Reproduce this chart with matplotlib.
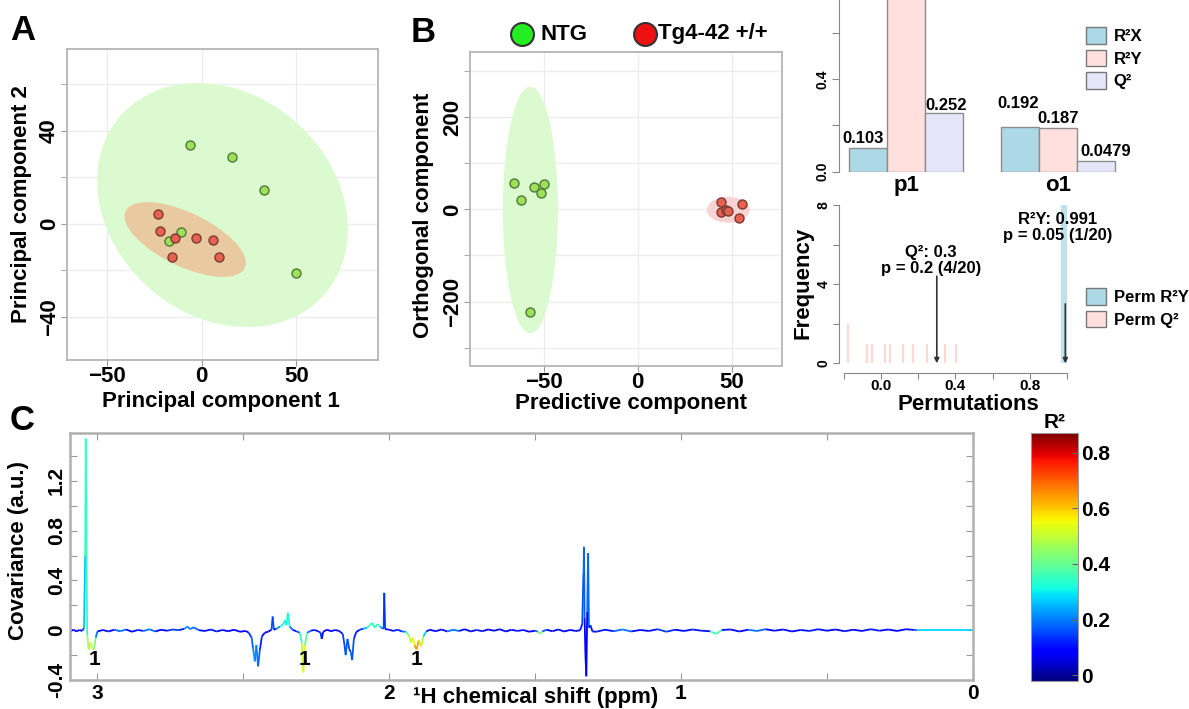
import numpy as np
import matplotlib.pyplot as plt
from matplotlib.patches import Ellipse, Patch
from matplotlib.collections import LineCollection
from matplotlib.lines import Line2D
from matplotlib.colors import Normalize
from matplotlib.cm import ScalarMappable

plt.rcParams['font.family'] = ['Liberation Sans', 'DejaVu Sans']
plt.rcParams['font.weight'] = 'bold'

# ---- A: PCA scores
pca_ntg_x = [-6, 16, 33, 50, -11, -17]
pca_ntg_y = [34, 28.5, 14.6, -21, -3.4, -7.3]
pca_tg_x = [-23, -21.7, -13.9, -3, 6.2, -15.5, 9]
pca_tg_y = [4.2, -3, -6.3, -6.2, -6.9, -14.5, -14.5]
# ellipse: centre x, centre y, width, height, angle
pca_ntg_ell = (11, 8, 136, 100, -20)
pca_tg_ell = (-8.7, -6.8, 67.5, 23.7, -20)

# ---- B: OPLS-DA scores
opls_ntg_pred = [-65.8, -61.7, -55.2, -49.9, -51.5, -57]
opls_ntg_orth = [57.7, 20.2, 48.4, 54.9, 35.4, -223.4]
opls_tg_pred = [43.9, 44.3, 47, 48, 55.4, 53.6]
opls_tg_orth = [15.8, -6.5, -2.2, -3, 10.8, -18.2]
opls_ntg_ell = (-57, -1.5, 29.2, 535, 0)
opls_tg_ell = (48, -1, 22.6, 56, 0)
group_names = ['NTG', 'Tg4-42 +/+']

# ---- model overview
comp_names = ['p1', 'o1']
r2x = [0.103, 0.192]
r2y = [0.804, 0.187]
q2 = [0.252, 0.0479]

# ---- permutations
perm_q2_bins = [-0.176, -0.077, -0.05, 0.02, 0.048, 0.12, 0.174, 0.245, 0.344, 0.403]
perm_q2_counts = [2, 1, 1, 1, 1, 1, 1, 1, 1, 1]
perm_r2y_bins = [0.985]
perm_r2y_counts = [8]
model_q2 = 0.3
model_r2y = 0.991
q2_text = 'Q²: 0.3\np = 0.2 (4/20)'
r2y_text = 'R²Y: 0.991\np = 0.05 (1/20)'

# ---- C: covariance spectrum coloured by R2
shift_ppm = [
    3.09, 3.08, 3.07, 3.06, 3.05, 3.044, 3.040, 3.038, 3.036, 3.033, 3.028, 3.022, 3.016, 3.010, 3.004, 2.998,
    2.98, 2.96, 2.94, 2.92, 2.90, 2.88, 2.86, 2.84, 2.82, 2.80, 2.78, 2.76, 2.74, 2.72, 2.70, 2.69, 2.68, 2.67,
    2.65, 2.63, 2.61, 2.59, 2.57, 2.55, 2.53, 2.51, 2.49, 2.48,
    2.470, 2.465, 2.459, 2.454, 2.448, 2.442, 2.435, 2.425, 2.412, 2.402, 2.398, 2.394, 2.385, 2.372, 2.362,
    2.356, 2.351, 2.346, 2.340, 2.330, 2.318, 2.305, 2.298, 2.293, 2.288, 2.280, 2.268, 2.255, 2.242, 2.234,
    2.230, 2.225, 2.212, 2.198, 2.184, 2.170, 2.158, 2.152, 2.148, 2.142, 2.136, 2.130, 2.126, 2.120, 2.112,
    2.100, 2.088, 2.075, 2.066, 2.058, 2.048, 2.040, 2.030, 2.022, 2.018, 2.016, 2.013, 2.006, 1.998,
    1.985, 1.970, 1.955, 1.942, 1.932, 1.924, 1.918, 1.912, 1.905, 1.898, 1.890, 1.882, 1.872, 1.860, 1.840,
    1.820, 1.800, 1.780, 1.760, 1.740, 1.720, 1.700, 1.680, 1.660, 1.640, 1.620, 1.600, 1.580, 1.560, 1.540,
    1.520, 1.500, 1.490, 1.483, 1.475, 1.460, 1.440, 1.420, 1.400, 1.380, 1.360, 1.345,
    1.338, 1.334, 1.332, 1.330, 1.327, 1.324, 1.321, 1.318, 1.315, 1.310, 1.303,
    1.29, 1.26, 1.23, 1.20, 1.17, 1.14, 1.11, 1.08, 1.05, 1.02, 0.99, 0.96, 0.93, 0.90, 0.88,
    0.86, 0.83, 0.80, 0.77, 0.74, 0.71, 0.68, 0.65, 0.62, 0.59, 0.56, 0.53, 0.50, 0.47, 0.44,
    0.41, 0.38, 0.35, 0.32, 0.29, 0.26, 0.23, 0.20,
    0.19, 0.0]
covariance = [
    -0.008, 0.004, -0.010, 0.002, -0.006, 0.02, 0.6, 1.54, 0.7, -0.04, -0.155, -0.10, -0.14, -0.155, -0.06, -0.01,
    0.002, -0.010, 0.004, -0.008, 0.006, -0.012, 0.002, -0.006, 0.008, -0.010, 0.004, -0.004, 0.006, 0.000, 0.012,
    0.030, 0.008, 0.024, 0.000, -0.006, 0.006, -0.010, 0.002, -0.008, 0.004, -0.012, -0.006, -0.02,
    -0.06, -0.15, -0.25, -0.12, -0.29, -0.16, -0.05, -0.02, -0.01, 0.005, 0.11, 0.004, 0.012, 0.03, 0.05,
    0.08, 0.04, 0.14, 0.03, 0.004, -0.008, -0.02, -0.10, -0.34, -0.12, -0.02, -0.004, 0.002, -0.008, -0.02,
    -0.07, -0.012, 0.004, -0.008, 0.002, -0.006, -0.03, -0.12, -0.20, -0.07, -0.15, -0.18, -0.24, -0.07, -0.015,
    0.004, 0.012, 0.02, 0.04, 0.06, 0.02, 0.05, 0.03, 0.012, 0.02, 0.30, 0.01, 0.006, 0.004,
    -0.006, 0.004, -0.010, -0.012, -0.04, -0.10, -0.06, -0.12, -0.155, -0.08, -0.13, -0.05, -0.01, 0.004, -0.008,
    0.006, -0.010, 0.004, -0.006, 0.008, -0.010, 0.002, -0.008, 0.006, -0.004, 0.008, -0.010, 0.004, -0.006, 0.002,
    -0.012, -0.004, -0.012, -0.03, -0.01, 0.004, -0.008, 0.006, -0.010, 0.002, -0.006, 0.0,
    0.05, 0.45, 0.67, 0.1, -0.2, -0.37, 0.15, 0.62, 0.02, 0.04, -0.01,
    -0.012, 0.004, -0.008, 0.006, -0.010, 0.002, -0.006, 0.008, -0.012, 0.004, -0.006, 0.006, -0.004, -0.008, -0.03,
    0.002, 0.006, -0.010, 0.004, -0.006, 0.008, -0.004, 0.006, -0.010, 0.002, -0.006, 0.008, -0.004, 0.006, -0.008,
    0.004, -0.006, 0.008, -0.004, 0.006, -0.006, 0.008, 0.002,
    0.0, 0.0]
r2_corr = [
    0.1, 0.07, 0.12, 0.07, 0.1, 0.2, 0.32, 0.38, 0.3, 0.4, 0.52, 0.45, 0.55, 0.56, 0.3, 0.1,
    0.09, 0.12, 0.07, 0.28, 0.1, 0.07, 0.14, 0.09, 0.3, 0.08, 0.11, 0.07, 0.2, 0.09, 0.14,
    0.3, 0.12, 0.28, 0.09, 0.07, 0.14, 0.09, 0.12, 0.07, 0.1, 0.08, 0.09, 0.11,
    0.16, 0.2, 0.24, 0.18, 0.22, 0.14, 0.11, 0.09, 0.08, 0.1, 0.22, 0.09, 0.14, 0.3, 0.34,
    0.32, 0.3, 0.36, 0.28, 0.1, 0.09, 0.25, 0.45, 0.55, 0.5, 0.3, 0.09, 0.07, 0.11, 0.14,
    0.12, 0.1, 0.08, 0.11, 0.07, 0.09, 0.14, 0.16, 0.14, 0.2, 0.12, 0.16, 0.2, 0.14, 0.1,
    0.08, 0.2, 0.3, 0.4, 0.35, 0.3, 0.4, 0.32, 0.14, 0.12, 0.18, 0.09, 0.07, 0.09,
    0.09, 0.14, 0.1, 0.3, 0.45, 0.55, 0.5, 0.62, 0.68, 0.6, 0.55, 0.4, 0.14, 0.09, 0.07,
    0.12, 0.09, 0.3, 0.08, 0.11, 0.07, 0.14, 0.09, 0.07, 0.12, 0.09, 0.11, 0.07, 0.14, 0.08,
    0.09, 0.07, 0.3, 0.6, 0.25, 0.09, 0.07, 0.12, 0.09, 0.1, 0.07, 0.11,
    0.12, 0.2, 0.25, 0.1, 0.07, 0.06, 0.12, 0.26, 0.1, 0.14, 0.09,
    0.09, 0.14, 0.07, 0.3, 0.09, 0.07, 0.12, 0.09, 0.2, 0.07, 0.11, 0.09, 0.14, 0.07, 0.65,
    0.09, 0.12, 0.07, 0.11, 0.28, 0.09, 0.07, 0.12, 0.09, 0.07, 0.14, 0.09, 0.11, 0.07, 0.12,
    0.09, 0.07, 0.14, 0.09, 0.11, 0.07, 0.12, 0.09,
    0.28, 0.28]
peak_label_ppm = [3.009, 2.288, 1.905]

W, H = 1189, 709
fig = plt.figure(figsize=(W / 100, H / 100), dpi=100)


def box(l, t, r, b):
    return fig.add_axes([l / W, 1 - b / H, (r - l) / W, (b - t) / H])


def ftext(x, y, s, **kw):
    return fig.text(x / W, 1 - y / H, s, **kw)


GREEN_FILL = '#dcfad0'
NTG_PT = dict(marker='o', ls='none', ms=6.5, mfc='#9ee05c', mec='#4f7a35', mew=1)
TG_PT = dict(marker='o', ls='none', ms=6.5, mfc='#e8604f', mec='#7a3a30', mew=1)


def score_style(ax):
    for s in ax.spines.values():
        s.set_color('#b5b5b5')
        s.set_linewidth(1.3)
    ax.set_axisbelow(True)
    ax.grid(True, which='both', color='#ececec', lw=0.9)
    ax.tick_params(which='both', length=4, color='#999999', labelsize=16, pad=0)
    ax.tick_params(axis='y', labelrotation=90, pad=1)
    for lab in ax.get_yticklabels():
        lab.set_va('center')


def add_ell(ax, e, color):
    ax.add_patch(Ellipse((e[0], e[1]), e[2], e[3], angle=e[4], fc=color, ec='none', zorder=1))


# ---------------- A
axA = box(67, 49, 378, 360)
axA.set_xlim(-71, 93)
axA.set_ylim(-58.5, 75)
axA.set_xticks([-50, 0, 50])
axA.set_yticks([-40, 0, 40])
axA.set_yticks([-20, 20, 60], minor=True)
axA.xaxis.grid(False, which='minor')
score_style(axA)
add_ell(axA, pca_ntg_ell, GREEN_FILL)
add_ell(axA, pca_tg_ell, '#e8c9a0')
axA.plot(pca_ntg_x, pca_ntg_y, zorder=3, **NTG_PT)
axA.plot(pca_tg_x, pca_tg_y, zorder=3, **TG_PT)
ftext(221, 402, 'Principal component 1', ha='center', va='center', fontsize=16)
ftext(22, 204, 'Principal component 2', ha='center', va='center', fontsize=16, rotation=90)

# ---------------- B
axB = box(470, 52, 782, 366)
axB.set_xlim(-89, 76.5)
axB.set_ylim(-339.5, 341)
axB.set_xticks([-50, 0, 50])
axB.set_yticks([-200, 0, 200])
axB.set_yticks([-300, -100, 100, 300], minor=True)
score_style(axB)
add_ell(axB, opls_ntg_ell, GREEN_FILL)
add_ell(axB, opls_tg_ell, '#f8d3d3')
axB.plot(opls_ntg_pred, opls_ntg_orth, zorder=3, **NTG_PT)
axB.plot(opls_tg_pred, opls_tg_orth, zorder=3, **TG_PT)
ftext(631, 403, 'Predictive component', ha='center', va='center', fontsize=16)
ftext(424, 215, 'Orthogonal component', ha='center', va='center', fontsize=16, rotation=90)

# legend of groups
for (xm, xt), name, fc in zip([(522, 540), (645, 658)], group_names, ['#22ee22', '#ee1111']):
    fig.add_artist(Line2D([xm / W], [1 - 34 / H], marker='o', ms=16.5, mfc=fc, mec='#333333', mew=1.5,
                          transform=fig.transFigure))
    ftext(xt, 34, name, ha='left', va='center', fontsize=16)

# ---------------- overview bars
bar_top_px = 171.7 - 0.85 * 231.6
axO = box(839.3, bar_top_px, 1118.4, 171.7)
axO.set_xlim(0.235, 7.6)
axO.set_ylim(0, 0.85)
grp = np.array([1, 5])
bar_cols = ['#add8e6', '#ffe0dc', '#e6e6fa']
for k, (vals, col) in enumerate(zip([r2x, r2y, q2], bar_cols)):
    axO.bar(grp + k, vals, width=1, color=col, edgecolor='#8c8c8c', lw=1)
label_shift = [[(-0.15, 0.02), (0, 0.02), (0.05, 0.014)],
               [(-0.05, 0.082), (0, 0.022), (0.27, 0.021)]]
for g in range(2):
    for k, vals in enumerate([r2x, r2y, q2]):
        v = vals[g]
        dx, dy = label_shift[g][k]
        axO.text(grp[g] + k + dx, v + dy, '%.3g' % v, ha='center', va='baseline', fontsize=12, clip_on=False)
    axO.text(grp[g] + 1, -0.015, comp_names[g], ha='center', va='top', fontsize=16)
for s in ['top', 'right', 'bottom']:
    axO.spines[s].set_visible(False)
axO.spines['left'].set_bounds(0, 0.8)
axO.spines['left'].set_color('#888888')
axO.set_xticks([])
axO.set_yticks([0, 0.2, 0.4, 0.6, 0.8])
axO.set_yticklabels(['0.0', '', '0.4', '', '0.8'])
axO.tick_params(axis='y', length=5, color='#888888', labelsize=10, labelrotation=90, pad=2)
for lab in axO.get_yticklabels():
    lab.set_va('center')
axO.patch.set_visible(False)
axO.legend([Patch(fc=c, ec='#777777') for c in bar_cols], ['R²X', 'R²Y', 'Q²'],
           loc='upper left', bbox_to_anchor=(1078 / W, 1 - 19 / H), bbox_transform=fig.transFigure,
           frameon=False, fontsize=12, handlelength=1.15, handleheight=1.15, labelspacing=0.33,
           handletextpad=0.5, borderpad=0)

# ---------------- permutations
axP = box(839.3, 200, 1075, 373.3)
axP.set_xlim(-0.2242, 1.043)
axP.set_ylim(-0.505, 8.25)
axP.vlines(perm_q2_bins, 0, perm_q2_counts, color='#fcd9d3', lw=1.6)
axP.vlines(perm_r2y_bins, 0, perm_r2y_counts, color='#bfe1ec', lw=4.5)
arrow = dict(arrowstyle='-|>', color='#333333', lw=1.2, mutation_scale=7, shrinkA=0, shrinkB=0)
axP.annotate('', xy=(model_q2, 0), xytext=(model_q2, 4.4), arrowprops=arrow)
axP.annotate('', xy=(model_r2y, 0), xytext=(model_r2y, 3.0), arrowprops=arrow)
axP.text(0.27, 5.18, q2_text, ha='center', va='center', fontsize=12, linespacing=1.1)
axP.text(0.95, 6.87, r2y_text, ha='center', va='center', fontsize=12, linespacing=1.1)
for s in ['top', 'right']:
    axP.spines[s].set_visible(False)
axP.spines['left'].set_bounds(0, 8)
axP.spines['bottom'].set_bounds(-0.2, 1.0)
for s in ['left', 'bottom']:
    axP.spines[s].set_color('#888888')
axP.set_yticks([0, 2, 4, 6, 8])
axP.set_yticklabels(['0', '', '4', '', '8'])
axP.set_xticks([-0.2, 0, 0.2, 0.4, 0.6, 0.8, 1.0])
axP.set_xticklabels(['', '0.0', '', '0.4', '', '0.8', ''])
axP.tick_params(length=4, color='#888888', pad=0)
axP.tick_params(axis='x', labelsize=11)
axP.tick_params(axis='y', labelsize=10, labelrotation=90, pad=2)
for lab in axP.get_yticklabels():
    lab.set_va('center')
axP.patch.set_visible(False)
axP.legend([Patch(fc='#add8e6', ec='#777777'), Patch(fc='#ffe0dc', ec='#777777')], ['Perm R²Y', 'Perm Q²'],
           loc='upper left', bbox_to_anchor=(1078 / W, 1 - 280 / H), bbox_transform=fig.transFigure,
           frameon=False, fontsize=12, handlelength=1.15, handleheight=1.15, labelspacing=0.33,
           handletextpad=0.5, borderpad=0)
ftext(803, 283, 'Frequency', ha='center', va='center', fontsize=16, rotation=90)
ftext(968, 404, 'Permutations', ha='center', va='center', fontsize=16)

# ---------------- C
axC = box(70, 433, 973, 680)
norm = Normalize(-0.02, 0.87)
pts = np.column_stack([shift_ppm, covariance])
segs = np.stack([pts[:-1], pts[1:]], axis=1)
r2a = np.asarray(r2_corr)
lc = LineCollection(segs, cmap='jet', norm=norm, lw=1.3)
lc.set_array(0.5 * (r2a[:-1] + r2a[1:]))
axC.add_collection(lc)
axC.set_xlim(3.092, 0)
axC.set_ylim(-0.4, 1.585)
axC.set_xticks([3, 2.5, 2, 1.5, 1, 0.5, 0])
axC.set_xticklabels(['3', '', '2', '', '1', '', '0'])
yt = np.round(np.arange(-0.4, 1.5, 0.2), 1)
axC.set_yticks(yt)
axC.set_yticklabels(['-0.4', '', '0', '', '0.4', '', '0.8', '', '1.2', ''])
axC.tick_params(direction='in', top=True, right=True, length=5, color='#999999', labelsize=15, pad=3)
axC.tick_params(axis='y', labelrotation=90)
for lab in axC.get_yticklabels():
    lab.set_va('center')
for s in axC.spines.values():
    s.set_color('#b0b0b0')
    s.set_linewidth(1.8)
for p in peak_label_ppm:
    axC.text(p, -0.235, '1', ha='center', va='center', fontsize=15)
ftext(536, 697, '¹H chemical shift (ppm)', ha='center', va='center', fontsize=16)
ftext(19, 551, 'Covariance (a.u.)', ha='center', va='center', fontsize=16, rotation=90)

cax = box(1031, 433, 1078, 681)
cb = fig.colorbar(ScalarMappable(norm=norm, cmap='jet'), cax=cax)
cb.set_ticks([0, 0.2, 0.4, 0.6, 0.8])
cb.set_ticklabels(['0', '0.2', '0.4', '0.6', '0.8'])
cb.outline.set_edgecolor('#999999')
cax.tick_params(labelsize=15, length=4, direction='in', color='#666666', pad=2)
ftext(1055, 423, 'R²', ha='center', va='center', fontsize=15)

# panel letters
ftext(23, 31, 'A', ha='center', va='center', fontsize=25)
ftext(423, 32, 'B', ha='center', va='center', fontsize=25)
ftext(22, 420, 'C', ha='center', va='center', fontsize=25)

fig.savefig('out.png', dpi=100)
